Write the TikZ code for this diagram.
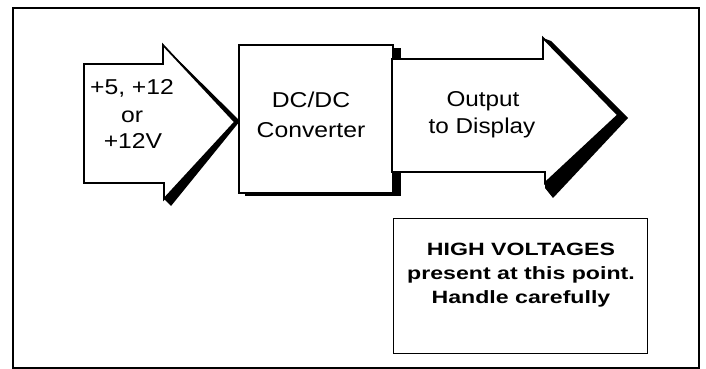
\documentclass[tikz,border=0pt]{standalone}
\usepackage{fontspec}
\setmainfont{Liberation Sans}
\begin{document}
\begin{tikzpicture}[x=1pt,y=-1pt]
\tikzset{
  frame/.style={draw=black, line width=1.4pt},
  blockshape/.style={draw=black, fill=white, line width=1.8pt, line join=miter},
  shadowfill/.style={fill=black},
  lbl/.style={anchor=base, inner sep=0pt, font=\fontsize{21.5}{26}\selectfont},
  warn/.style={anchor=base, inner sep=0pt, font=\fontsize{17.8}{22}\selectfont\bfseries},
}
\useasboundingbox (0,0) rectangle (706,369);
% outer frame
\draw[frame] (13,8) rectangle (699,368);

% left input arrow with shadow
\fill[shadowfill] (163,45) -- (240,121) -- (171,206) -- (164,199) -- (235,122) -- cycle;
\draw[blockshape] (84,64) -- (163,64) -- (163,45) -- (235,122) -- (164,199) -- (164,183) -- (84,183) -- cycle;

% converter box with shadow
\fill[shadowfill] (245,48) rectangle (401,196);
\node[blockshape, minimum width=154pt, minimum height=148pt, inner sep=0pt, anchor=north west] (conv) at (238,44) {};

% right output arrow with shadow
\fill[shadowfill] (543,38) -- (551,41) -- (628,118) -- (553,198) -- (545,188) -- (545,183) -- (618,115) -- cycle;
\draw[blockshape] (392,59) -- (543,59) -- (543,38) -- (618,115) -- (545,183) -- (545,172) -- (392,172) -- cycle;

% warning box
\node[draw=black, line width=1pt, fill=white, minimum width=254pt, minimum height=135pt, inner sep=0pt, anchor=north west] (warnbox) at (393,218) {};

% labels
\node[lbl] (in1) at (132,94) {\scalebox{1.15}[1]{+5, +12}};
\node[lbl] (in2) at (132,122) {\scalebox{1.15}[1]{or}};
\node[lbl] (in3) at (133,148) {\scalebox{1.15}[1]{+12V}};

\node[lbl] (cv1) at (311,107) {\scalebox{1.15}[1]{DC/DC}};
\node[lbl] (cv2) at (311,137) {\scalebox{1.15}[1]{Converter}};

\node[lbl] (out1) at (483,106) {\scalebox{1.13}[1]{Output}};
\node[lbl] (out2) at (482,133) {\scalebox{1.13}[1]{to Display}};

\node[warn] (w1) at (521,255) {\scalebox{1.3}[1]{HIGH VOLTAGES}};
\node[warn] (w2) at (521,279) {\scalebox{1.3}[1]{present at this point.}};
\node[warn] (w3) at (521,303) {\scalebox{1.3}[1]{Handle carefully}};
\end{tikzpicture}
\end{document}
